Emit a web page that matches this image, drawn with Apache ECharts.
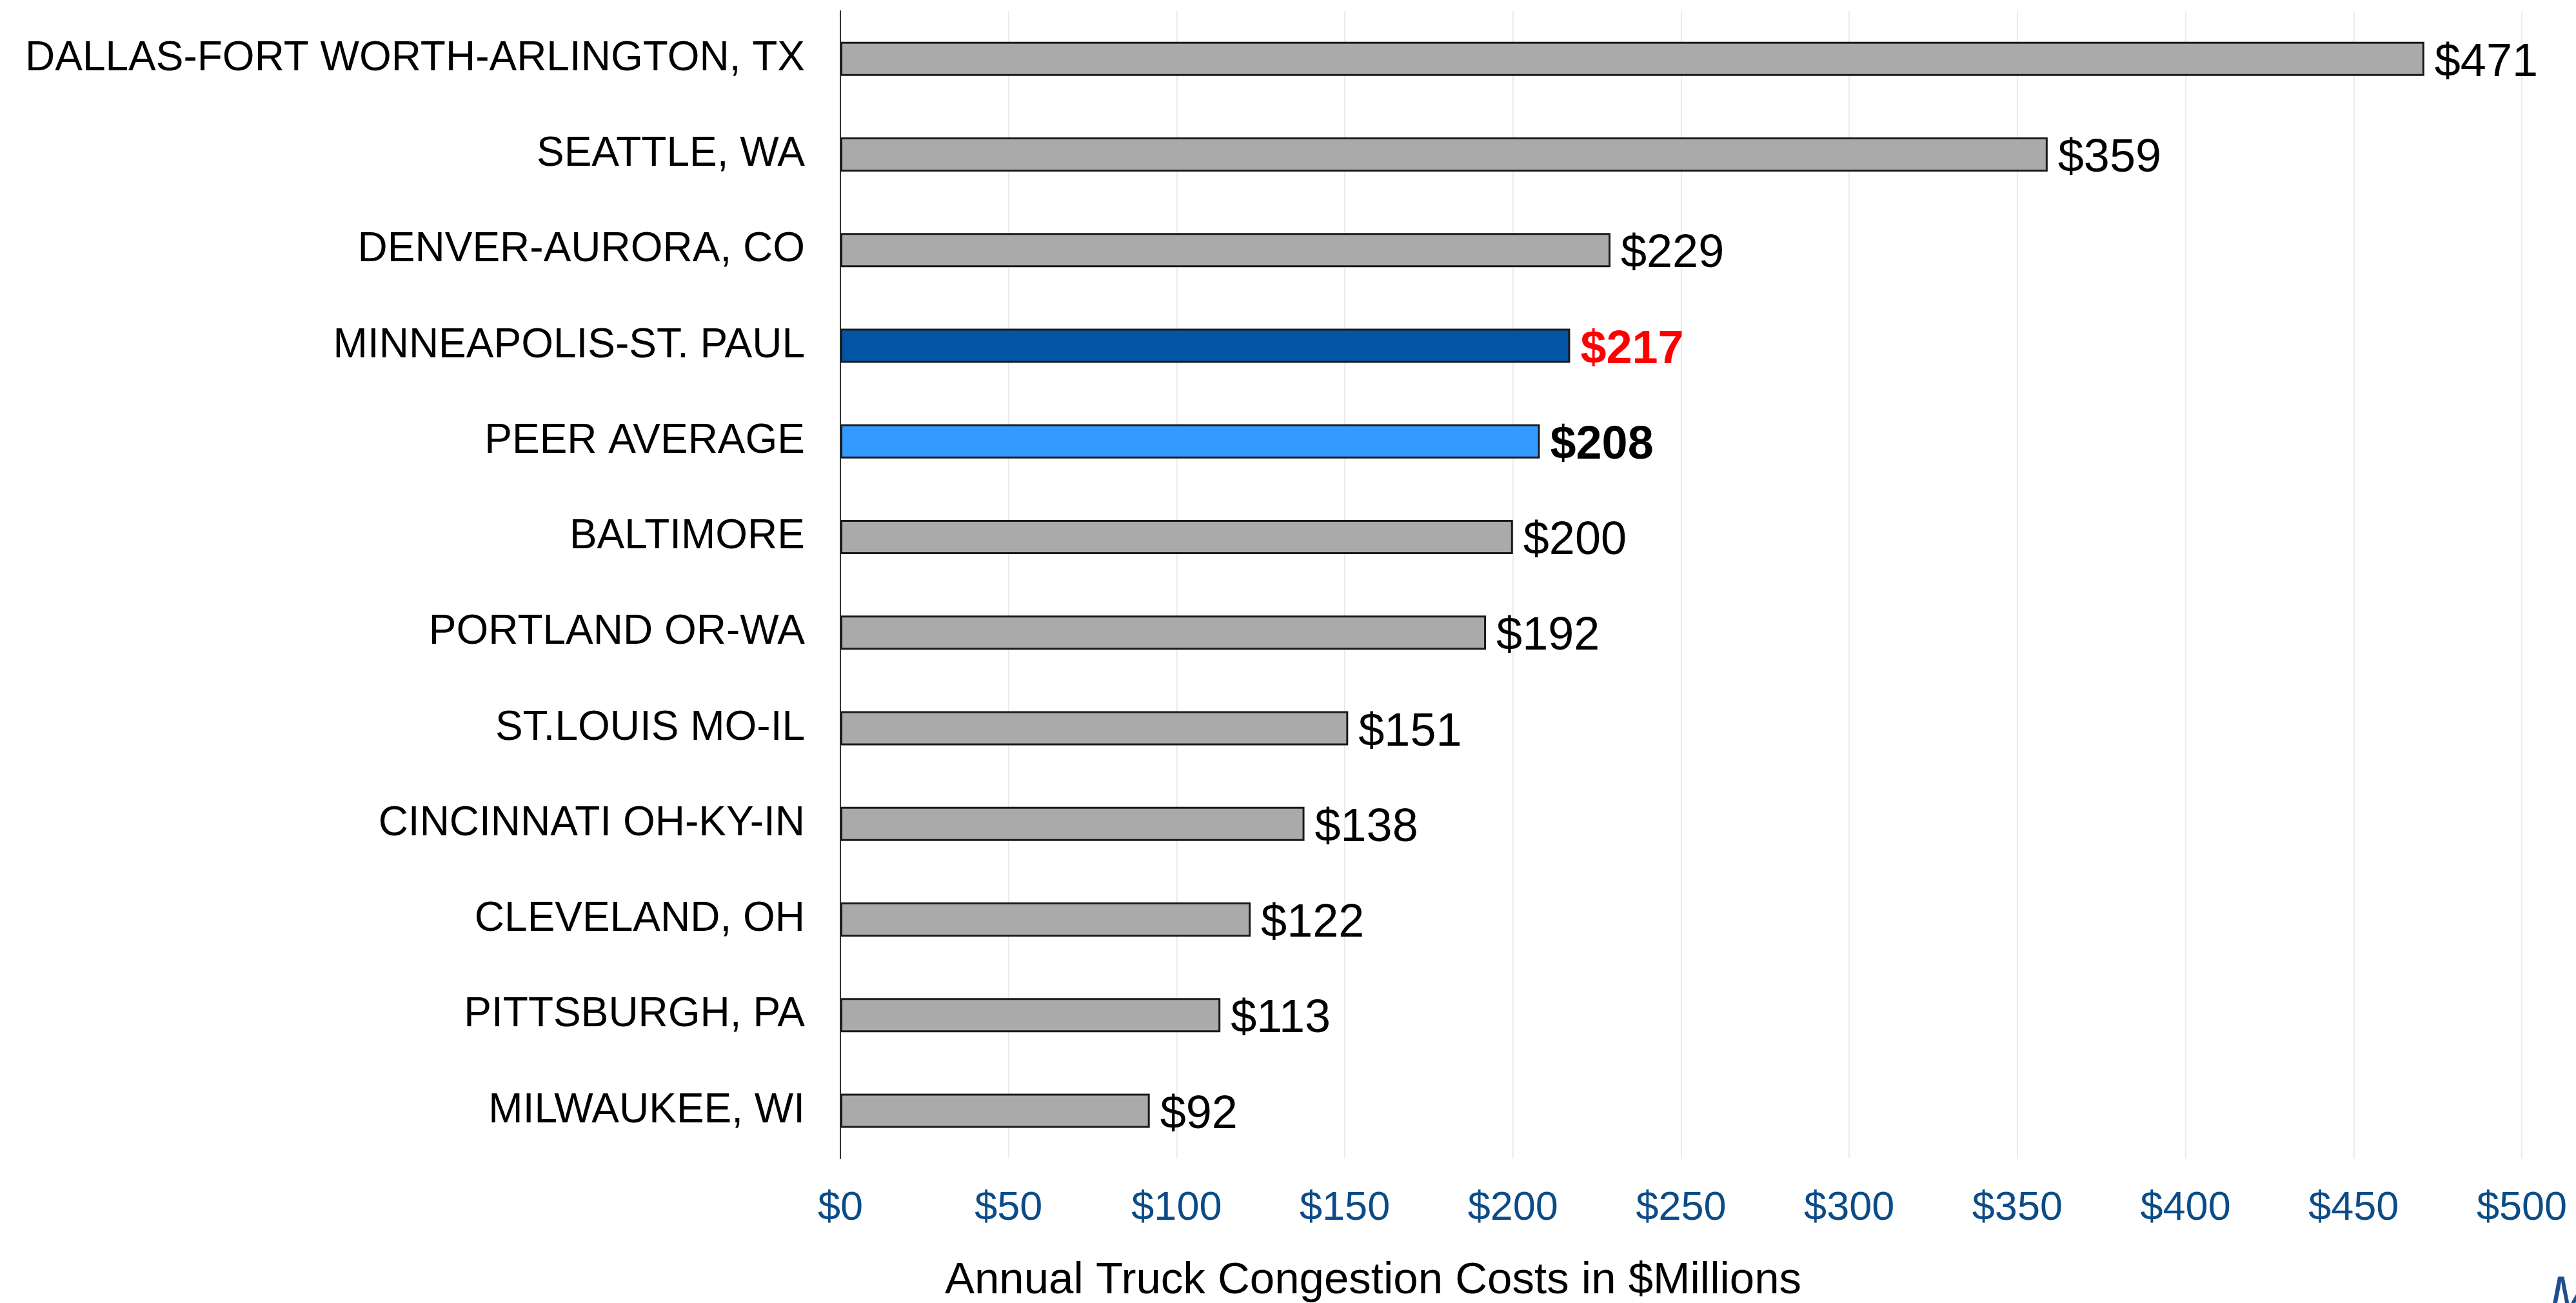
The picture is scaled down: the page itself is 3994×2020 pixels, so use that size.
<!DOCTYPE html>
<html>
<head>
<meta charset="utf-8">
<script src="https://cdn.jsdelivr.net/npm/echarts@6/dist/echarts.min.js"></script>
<style>
  html, body { margin: 0; padding: 0; background: #fff; }
  #chart { width: 3994px; height: 2020px; }
</style>
</head>
<body>
<div id="chart"></div>
<script>
// 数据
const categories = [
    'DALLAS-FORT WORTH-ARLINGTON, TX',
    'SEATTLE, WA',
    'DENVER-AURORA, CO',
    'MINNEAPOLIS-ST. PAUL',
    'PEER AVERAGE',
    'BALTIMORE',
    'PORTLAND OR-WA',
    'ST.LOUIS MO-IL',
    'CINCINNATI OH-KY-IN',
    'CLEVELAND, OH',
    'PITTSBURGH, PA',
    'MILWAUKEE, WI'
];
const costs = [471, 359, 229, 217, 208, 200, 192, 151, 138, 122, 113, 92];
const focusName = 'MINNEAPOLIS-ST. PAUL';
const averageName = 'PEER AVERAGE';
const axisTitle = 'Annual Truck Congestion Costs in $Millions';

const font = '"Liberation Sans", Arial, sans-serif';

const chart = echarts.init(document.getElementById('chart'));

// 每根柱子的颜色和标签样式
const barData = costs.map(function(v, i) {
    const name = categories[i];
    let fill = '#aaaaaa';
    let label = { color: '#000', fontWeight: 'normal' };
    if (name === focusName) {
        fill = '#0255a5';
        label = { color: '#ff0000', fontWeight: 'bold' };
    } else if (name === averageName) {
        fill = '#339bff';
        label = { color: '#000', fontWeight: 'bold' };
    }
    return { value: v, itemStyle: { color: fill }, label: label };
});

const option = {
    backgroundColor: '#fff',
    animation: false,
    grid: {
        left: 1303,
        right: 84,
        top: 17,
        bottom: 224
    },
    xAxis: {
        type: 'value',
        min: 0,
        max: 500,
        interval: 50,
        axisLine: { show: false },
        axisTick: { show: false },
        splitLine: { lineStyle: { color: '#ebebeb', width: 2 } },
        axisLabel: {
            margin: 46,
            fontSize: 63,
            fontFamily: font,
            color: '#0b4c88',
            formatter: function(v) { return '$' + v; }
        }
    },
    yAxis: {
        type: 'category',
        inverse: true,
        data: categories,
        axisLine: { show: true, lineStyle: { color: '#333', width: 2 } },
        axisTick: { show: false },
        axisLabel: {
            margin: 55,
            fontSize: 64,
            fontFamily: font,
            color: '#000'
        }
    },
    series: [{
        type: 'bar',
        data: barData,
        barWidth: 53,
        itemStyle: { borderColor: '#1a1a1a', borderWidth: 3 },
        label: {
            show: true,
            position: 'right',
            distance: 16,
            fontSize: 72,
            fontFamily: font,
            offset: [0, 7],
            formatter: function(p) { return '$' + p.value; }
        }
    }],
    graphic: [
        {
            type: 'text',
            x: 2129,
            y: 1986,
            style: {
                text: axisTitle,
                font: '69px ' + font,
                fill: '#000',
                align: 'center',
                verticalAlign: 'middle'
            }
        },
        {
            type: 'text',
            x: 3953,
            y: 1972,
            style: {
                text: 'M',
                font: 'italic 80px ' + font,
                fill: '#1d4f8e',
                align: 'left',
                verticalAlign: 'top'
            }
        }
    ]
};

chart.setOption(option);
</script>
</body>
</html>
